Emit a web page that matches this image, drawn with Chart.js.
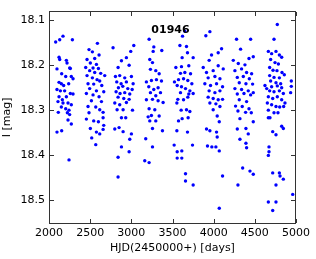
<!DOCTYPE html>
<html lang="en">
  <head>
    <meta charset="UTF-8" />
    <title>01946 light curve</title>
    <script src="https://cdn.jsdelivr.net/npm/chart.js"></script>
    <style>
      html, body { margin: 0; padding: 0; background: #fff; }
      #wrap { position: relative; width: 316px; height: 259px; }
      #box { position: absolute; border: 1px solid #333; box-sizing: border-box; pointer-events: none; }
    </style>
  </head>
  <body>
    <div id="wrap">
      <canvas id="lc" width="316" height="259"></canvas>
      <div id="box"></div>
    </div>

    <script>
      // star id and tick labels
      var starId = "01946";
      var xTicks = [2000, 2500, 3000, 3500, 4000, 4500, 5000];
      var yTicks = [18.1, 18.2, 18.3, 18.4, 18.5];

      // observation times HJD-2450000, one line per season
      var hjd = [
        2081, 2130, 2170, 2284, 2122, 2130, 2211, 2219, 2097, 2251, 2259, 2154, 2203, 2271, 2292, 2122, 2150, 2178, 2239, 2097, 2138, 2190, 2259, 2292, 2122, 2162, 2211, 2109, 2170, 2231, 2271, 2150, 2203, 2243, 2113, 2223, 2251, 2231, 2271, 2097, 2154, 2243,
        2486, 2527, 2588, 2555, 2462, 2608, 2502, 2576, 2446, 2535, 2600, 2494, 2555, 2628, 2677, 2462, 2527, 2584, 2616, 2474, 2543, 2641, 2494, 2576, 2665, 2454, 2535, 2608, 2515, 2637, 2474, 2568, 2616, 2486, 2657, 2454, 2543, 2600, 2657, 2502, 2576, 2616, 2519, 2568, 2657, 2665,
        2778, 2880, 2993, 3030, 2940, 2839, 2973, 2807, 2859, 2920, 3001, 2823, 2876, 2940, 3022, 2843, 2896, 2957, 3010, 2815, 2863, 2920, 2981, 2839, 2908, 2973, 2799, 2859, 2940, 2827, 2900, 3014, 2880, 2932, 2799, 2851, 2900, 3001, 2981, 2880, 2973, 2839, 2839,
        3216, 3265, 3273, 3370, 3224, 3257, 3232, 3297, 3338, 3183, 3244, 3305, 3366, 3212, 3273, 3325, 3232, 3297, 3354, 3183, 3257, 3325, 3386, 3216, 3285, 3244, 3338, 3297, 3224, 3204, 3257, 3378, 3175, 3257, 3163, 3216,
        3650, 3622, 3590, 3670, 3682, 3617, 3751, 3541, 3609, 3698, 3597, 3650, 3719, 3524, 3573, 3634, 3686, 3735, 3557, 3609, 3658, 3711, 3597, 3698, 3751, 3565, 3634, 3686, 3553, 3605, 3670, 3711, 3617, 3573, 3690, 3553, 3682, 3520, 3613, 3557, 3557, 3613, 3743, 3658, 3658, 3751,
        3905, 3954, 3873, 3974, 4096, 4055, 3945, 3913, 3994, 4055, 4116, 3933, 4015, 4076, 3893, 3962, 4035, 4108, 3945, 4015, 4076, 3933, 3994, 4055, 4108, 3954, 4027, 4076, 3994, 4043, 4068, 3913, 3954, 4035, 4043, 3925, 3978, 4027, 4068, 4108, 4068,
        4278, 4327, 4449, 4481, 4429, 4238, 4299, 4380, 4258, 4339, 4400, 4461, 4287, 4360, 4433, 4311, 4392, 4473, 4258, 4339, 4420, 4287, 4368, 4449, 4481, 4311, 4400, 4266, 4347, 4429, 4295, 4388, 4457, 4319, 4481, 4287, 4392, 4420, 4319, 4392, 4400, 4352, 4441, 4481, 4295,
        4623, 4733, 4773, 4664, 4704, 4757, 4798, 4826, 4692, 4745, 4786, 4680, 4721, 4769, 4830, 4858, 4680, 4733, 4798, 4692, 4757, 4814, 4644, 4704, 4773, 4826, 4680, 4733, 4798, 4846, 4664, 4717, 4773, 4826, 4866, 4652, 4704, 4757, 4802, 4850, 4664, 4733, 4781, 4684, 4664, 4826, 4846, 4717, 4757, 4672, 4672, 4664, 4717, 4798, 4806, 4846, 4757, 4664, 4757, 4717,
        4943, 4943, 4935, 4960
      ];

      // I magnitudes, same order as hjd
      var imag = [
        18.148, 18.143, 18.135, 18.143, 18.182, 18.187, 18.189, 18.195, 18.208, 18.206, 18.207, 18.219, 18.225, 18.225, 18.230, 18.238, 18.241, 18.245, 18.241, 18.254, 18.257, 18.257, 18.263, 18.264, 18.270, 18.277, 18.270, 18.281, 18.284, 18.284, 18.288, 18.293, 18.297, 18.300, 18.305, 18.306, 18.310, 18.322, 18.331, 18.349, 18.346, 18.411,
        18.165, 18.170, 18.151, 18.185, 18.187, 18.177, 18.195, 18.198, 18.205, 18.206, 18.207, 18.212, 18.216, 18.218, 18.223, 18.223, 18.228, 18.232, 18.235, 18.241, 18.242, 18.245, 18.252, 18.257, 18.259, 18.263, 18.266, 18.270, 18.279, 18.281, 18.292, 18.293, 18.299, 18.306, 18.305, 18.320, 18.324, 18.326, 18.317, 18.341, 18.349, 18.353, 18.362, 18.377, 18.343, 18.334,
        18.161, 18.190, 18.169, 18.156, 18.183, 18.205, 18.200, 18.225, 18.223, 18.228, 18.225, 18.237, 18.241, 18.237, 18.241, 18.250, 18.247, 18.252, 18.254, 18.259, 18.263, 18.261, 18.264, 18.271, 18.274, 18.276, 18.284, 18.288, 18.283, 18.299, 18.299, 18.300, 18.317, 18.317, 18.342, 18.339, 18.348, 18.353, 18.365, 18.382, 18.393, 18.405, 18.449,
        18.142, 18.169, 18.159, 18.167, 18.187, 18.194, 18.209, 18.212, 18.219, 18.237, 18.234, 18.232, 18.235, 18.248, 18.254, 18.250, 18.261, 18.268, 18.261, 18.277, 18.276, 18.279, 18.283, 18.297, 18.299, 18.312, 18.313, 18.324, 18.324, 18.315, 18.341, 18.346, 18.364, 18.382, 18.413, 18.417,
        18.124, 18.135, 18.156, 18.158, 18.172, 18.183, 18.183, 18.205, 18.203, 18.201, 18.218, 18.216, 18.219, 18.237, 18.232, 18.230, 18.234, 18.241, 18.245, 18.248, 18.252, 18.257, 18.261, 18.264, 18.263, 18.276, 18.277, 18.271, 18.284, 18.300, 18.299, 18.303, 18.319, 18.324, 18.317, 18.346, 18.349, 18.378, 18.391, 18.393, 18.407, 18.407, 18.378, 18.442, 18.458, 18.467,
        18.134, 18.125, 18.205, 18.177, 18.163, 18.172, 18.189, 18.216, 18.212, 18.201, 18.208, 18.228, 18.225, 18.230, 18.241, 18.245, 18.241, 18.248, 18.257, 18.261, 18.257, 18.271, 18.274, 18.277, 18.276, 18.284, 18.286, 18.292, 18.299, 18.313, 18.326, 18.342, 18.346, 18.349, 18.360, 18.380, 18.382, 18.382, 18.391, 18.447, 18.519,
        18.142, 18.164, 18.142, 18.181, 18.185, 18.189, 18.196, 18.199, 18.212, 18.208, 18.216, 18.219, 18.227, 18.225, 18.230, 18.239, 18.241, 18.242, 18.252, 18.254, 18.257, 18.264, 18.263, 18.266, 18.261, 18.277, 18.281, 18.291, 18.292, 18.297, 18.302, 18.305, 18.306, 18.319, 18.326, 18.342, 18.341, 18.353, 18.365, 18.374, 18.384, 18.429, 18.436, 18.443, 18.467,
        18.245, 18.142, 18.109, 18.169, 18.174, 18.169, 18.177, 18.182, 18.187, 18.194, 18.197, 18.205, 18.211, 18.212, 18.216, 18.221, 18.223, 18.227, 18.228, 18.235, 18.239, 18.241, 18.252, 18.248, 18.246, 18.250, 18.257, 18.259, 18.257, 18.263, 18.270, 18.274, 18.270, 18.277, 18.284, 18.284, 18.288, 18.292, 18.293, 18.292, 18.300, 18.306, 18.306, 18.317, 18.317, 18.336, 18.341, 18.348, 18.355, 18.382, 18.393, 18.401, 18.440, 18.440, 18.447, 18.454, 18.467, 18.505, 18.505, 18.524,
        18.235, 18.247, 18.261, 18.488
      ];

      var points = hjd.map(function (t, i) {
        return { x: t, y: imag[i] };
      });

      // inward tick marks on all four sides as filled rects, star id inside the frame,
      // and the html frame box placed on the chart area
      var framePlugin = {
        id: "frame",
        afterDraw: function (chart) {
          var ctx = chart.ctx;
          var a = chart.chartArea;
          var xs = chart.scales.x;
          var ys = chart.scales.y;
          var l = Math.round(a.left), r = Math.round(a.right);
          var t = Math.round(a.top), b = Math.round(a.bottom);
          ctx.save();
          ctx.fillStyle = "#333";
          xTicks.forEach(function (v) {
            var px = Math.round(xs.getPixelForValue(v));
            ctx.fillRect(px, b - 5, 1, 4);
            ctx.fillRect(px, t + 1, 1, 4);
          });
          yTicks.forEach(function (v) {
            var py = Math.round(ys.getPixelForValue(v));
            ctx.fillRect(l + 1, py, 4, 1);
            ctx.fillRect(r - 5, py, 4, 1);
          });
          ctx.fillStyle = "#000";
          ctx.font = "bold 11px 'DejaVu Sans'";
          ctx.textAlign = "center";
          ctx.textBaseline = "middle";
          ctx.fillText(starId, (l + r) / 2 - 2, t + 19);
          ctx.restore();

          var box = document.getElementById("box");
          box.style.left = l + "px";
          box.style.top = t + "px";
          box.style.width = (r - l) + "px";
          box.style.height = (b - t) + "px";
        },
      };

      var font = { family: "'DejaVu Sans'", size: 11 };

      new Chart(document.getElementById("lc").getContext("2d"), {
        type: "scatter",
        data: {
          datasets: [
            {
              data: points,
              backgroundColor: "#0000ff",
              borderWidth: 0,
              pointRadius: 1.7,
            },
          ],
        },
        options: {
          responsive: false,
          animation: false,
          layout: { padding: { top: 5, right: 20, left: 0, bottom: 0 } },
          plugins: {
            legend: { display: false },
            tooltip: { enabled: false },
          },
          scales: {
            x: {
              type: "linear",
              min: 2000,
              max: 5000,
              grid: { display: false, drawTicks: false },
              border: { display: false },
              afterBuildTicks: function (s) {
                s.ticks = xTicks.map(function (v) { return { value: v }; });
              },
              afterFit: function (s) { s.height = 35; },
              ticks: {
                font: font,
                color: "#000",
                padding: 3,
                maxRotation: 0,
                callback: function (v) { return String(v); },
              },
              title: {
                display: true,
                text: "HJD(2450000+) [days]",
                font: font,
                color: "#000",
                padding: { top: 0, bottom: 4 },
              },
            },
            y: {
              reverse: true,
              min: 18.078,
              max: 18.554,
              grid: { display: false, drawTicks: false },
              border: { display: false },
              afterBuildTicks: function (s) {
                s.ticks = yTicks.map(function (v) { return { value: v }; });
              },
              afterFit: function (s) { s.width = 49; },
              ticks: {
                font: font,
                color: "#000",
                padding: 4,
                callback: function (v) { return v.toFixed(1); },
              },
              title: {
                display: true,
                text: "I [mag]",
                font: font,
                color: "#000",
                padding: { top: 1, bottom: 0 },
              },
            },
          },
        },
        plugins: [framePlugin],
      });
    </script>
  </body>
</html>
